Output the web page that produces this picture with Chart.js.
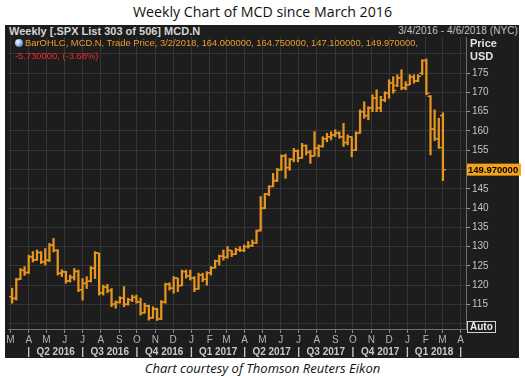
<!DOCTYPE html>
<html>
<head>
<meta charset="utf-8">
<script src="https://cdn.jsdelivr.net/npm/chart.js@4.4.1/dist/chart.umd.min.js"></script>
<style>
  html, body { margin: 0; padding: 0; background: #fff; }
  body { width: 525px; height: 376px; position: relative; overflow: hidden; font-family: "Liberation Sans", Arial, sans-serif; }
  #title { position: absolute; top: 2px; left: 0; width: 525px; text-align: center; font-family: "Open Sans", sans-serif; font-size: 14.2px; color: #111; }
  #caption { position: absolute; top: 359px; left: 0; width: 525px; text-align: center; font-family: "Open Sans", sans-serif; font-style: italic; font-size: 13px; color: #111; }
  #panel { position: absolute; left: 5px; top: 25px; width: 514px; height: 333px; background: #1d1d1d; }
  #head-left { position: absolute; left: 4px; top: 0px; font-size: 11px; font-weight: bold; color: #d4d4d4; line-height: 12px; }
  #head-right { position: absolute; right: 1px; top: 0px; font-size: 10px; letter-spacing: 0.1px; color: #c4c4c4; line-height: 12px; }
  #wrap { position: absolute; left: 0; top: 12px; width: 516px; height: 321px; }
  #legend { position: absolute; left: 10px; top: 12px; font-size: 9.4px; line-height: 12.5px; z-index: 2; }
  #legend .l1 { color: #eb9d2c; }
  #legend .l2 { color: #f22a2a; }
  #legend .icon { display: inline-block; width: 8px; height: 8px; border-radius: 50%; background: radial-gradient(circle at 35% 35%, #ffffff 0, #9fc3e8 40%, #2c5d9a 100%); vertical-align: -1px; margin-right: 2px; }
  #unit { position: absolute; left: 465px; top: 12px; font-size: 11px; font-weight: bold; color: #e2e2e2; line-height: 13px; z-index: 2; }
  #auto { position: absolute; left: 462px; top: 296px; font-size: 10px; font-weight: bold; color: #ececec; border: 1px solid #d0d0d0; padding: 0 2px; line-height: 10px; z-index: 2; }
</style>
</head>
<body>
<div id="title">Weekly Chart of MCD since March 2016</div>
<div id="panel">
  <div id="head-left">Weekly [.SPX List 303 of 506] MCD.N</div>
  <div id="head-right">3/4/2016 - 4/6/2018 (NYC)</div>
  <div id="wrap"><canvas id="chart" width="516" height="321"></canvas></div>
  <div id="legend">
    <div class="l1"><span class="icon"></span><span id="ohlc-text"></span></div>
    <div class="l2" id="chg-text"></div>
  </div>
  <div id="unit">Price<br>USD</div>
  <div id="auto">Auto</div>
</div>
<div id="caption">Chart courtesy of Thomson Reuters Eikon</div>

<script>
// weekly bars, first bar dated 3/4/2016
const firstBar = Date.UTC(2016, 2, 4);
const axisStart = Date.UTC(2016, 1, 26);
const axisEnd = Date.UTC(2018, 3, 10);
const lastBarLabel = '3/2/2018';

const opens = [
  117.0, 116.6, 121.6, 123.8, 123.3, 127.3, 126.6, 128.4, 126.1, 126.5,
  130.3, 129.0, 123.1, 123.4, 121.1, 122.0, 123.5, 118.8, 120.4, 121.0,
  124.4, 128.3, 118.0, 119.4, 118.6, 115.1, 115.5, 116.6, 115.0, 116.2,
  116.8, 115.6, 112.8, 114.6, 111.5, 113.8, 111.3, 115.6, 120.2, 119.2,
  121.8, 119.9, 123.5, 122.4, 121.8, 119.0, 122.6, 121.5, 123.2, 124.5,
  126.2, 127.5, 127.2, 129.0, 128.0, 129.2, 129.0, 130.0, 130.2, 131.0,
  134.3, 140.0, 143.6, 145.6, 147.0, 150.0, 153.5, 150.5, 152.6, 154.8,
  153.0, 156.2, 154.5, 153.5, 155.5, 156.0, 158.0, 158.5, 159.0, 159.5,
  158.5, 157.0, 158.5, 155.0, 159.5, 165.0, 164.0, 166.0, 168.5, 166.0,
  168.0, 169.8, 172.5, 171.8, 173.8, 171.2, 172.0, 174.0, 173.0, 175.0,
  178.3, 169.0, 160.5, 158.0, 164.0
];
const highs = [
  119.2, 121.8, 124.3, 124.8, 127.8, 128.7, 129.1, 128.7, 129.5, 130.8,
  132.1, 129.2, 124.0, 123.6, 122.6, 124.3, 123.9, 121.7, 122.2, 124.8,
  128.7, 128.3, 120.0, 120.2, 119.1, 115.9, 117.0, 119.6, 116.6, 117.4,
  117.4, 116.6, 115.3, 114.8, 114.4, 114.0, 116.0, 120.5, 120.6, 122.2,
  121.8, 123.9, 123.9, 123.9, 122.2, 123.1, 123.1, 123.5, 124.8, 126.5,
  127.8, 129.1, 130.0, 129.0, 129.6, 130.0, 130.4, 131.3, 131.7, 134.3,
  143.0, 143.8, 145.8, 149.0, 150.3, 153.8, 154.0, 152.9, 155.5, 155.1,
  156.8, 156.4, 155.0, 159.8, 156.4, 158.5, 159.4, 159.8, 160.3, 159.8,
  162.0, 159.0, 158.5, 159.8, 165.5, 167.6, 166.3, 169.4, 170.7, 169.0,
  170.2, 173.3, 174.1, 174.6, 175.9, 172.8, 174.6, 174.6, 174.6, 178.5,
  178.7, 169.2, 165.5, 163.3, 164.75
];
const lows = [
  115.3, 116.1, 121.4, 122.5, 123.0, 126.0, 126.4, 125.6, 125.2, 126.1,
  128.6, 122.6, 122.2, 120.5, 120.8, 121.3, 118.3, 116.1, 119.1, 120.8,
  121.7, 117.4, 117.4, 118.0, 114.4, 114.0, 115.3, 114.4, 114.8, 115.7,
  115.3, 112.2, 112.7, 110.9, 111.4, 110.8, 111.0, 115.3, 118.7, 117.9,
  118.3, 119.8, 121.8, 121.3, 118.3, 118.9, 120.9, 120.0, 122.6, 124.4,
  125.2, 126.5, 127.0, 127.4, 127.9, 128.7, 128.7, 129.6, 130.0, 130.8,
  134.0, 139.8, 143.2, 145.5, 146.9, 149.8, 147.7, 149.8, 152.0, 152.0,
  152.9, 153.8, 151.6, 153.5, 153.3, 155.8, 157.2, 157.7, 158.5, 158.1,
  156.0, 156.4, 153.3, 154.9, 159.4, 163.3, 162.9, 165.0, 165.0, 165.0,
  167.6, 168.5, 169.8, 171.5, 170.7, 170.7, 172.0, 172.4, 172.8, 174.6,
  169.4, 153.8, 157.5, 155.5, 147.1
];
const closes = [
  116.5, 121.4, 123.9, 123.2, 127.4, 126.5, 128.5, 126.0, 126.4, 130.4,
  129.0, 123.0, 123.5, 121.0, 122.0, 123.6, 118.8, 120.5, 121.0, 124.3,
  128.4, 118.0, 119.5, 118.6, 115.0, 115.5, 116.6, 115.0, 116.2, 116.8,
  115.6, 112.8, 114.6, 111.5, 113.8, 111.2, 115.5, 120.2, 119.2, 121.8,
  119.8, 123.5, 122.4, 121.8, 119.0, 122.6, 121.5, 123.2, 124.5, 126.2,
  127.5, 127.2, 129.0, 128.0, 129.2, 129.0, 130.0, 130.2, 131.0, 134.0,
  139.9, 143.6, 145.6, 147.2, 149.9, 153.5, 150.5, 152.6, 154.8, 153.0,
  156.2, 154.5, 153.5, 155.5, 156.0, 158.0, 158.5, 159.0, 159.5, 158.5,
  157.0, 158.5, 155.0, 159.5, 165.0, 164.0, 166.0, 168.5, 166.0, 168.0,
  169.8, 172.5, 170.5, 173.8, 171.2, 172.0, 174.0, 173.0, 174.2, 178.3,
  169.8, 160.5, 158.0, 155.7, 149.97
];

const monthLabels = ['M','A','M','J','J','A','S','O','N','D','J','F','M','A','M','J','J','A','S','O','N','D','J','F','M','A'];
const quarterLabels = ['Q2 2016','Q3 2016','Q4 2016','Q1 2017','Q2 2017','Q3 2017','Q4 2017','Q1 2018'];
const priceTicks = [110, 115, 120, 125, 130, 135, 140, 145, 150, 155, 160, 165, 170, 175, 180];
const labelledTicks = [115, 175]; // range of prices that get a tick label

const WEEK = 7 * 86400000;
const toWeeks = (t) => (t - firstBar) / WEEK;
const monthTicks = monthLabels.map((m, k) => toWeeks(Date.UTC(2016, 2 + k, 1)));
const quarterEdges = monthTicks.filter((v, k) => k % 3 === 1);
const quarterMids = quarterLabels.map((q, k) => (quarterEdges[k] + quarterEdges[k + 1]) / 2);

const BAR = '#e6951f';
const GRID = '#353535';
const TICKW = 0.36; // open/close tick offset, in weeks
const inLabelRange = (v) => v >= labelledTicks[0] && v <= labelledTicks[1];

const last = closes.length - 1;
const chg = closes[last] - closes[last - 1];
document.getElementById('ohlc-text').textContent =
  `BarOHLC, MCD.N, Trade Price, ${lastBarLabel}, ${opens[last].toFixed(6)}, ${highs[last].toFixed(6)}, ${lows[last].toFixed(6)}, ${closes[last].toFixed(6)},`;
document.getElementById('chg-text').textContent =
  `${chg.toFixed(6)}, (${(chg / closes[last - 1] * 100).toFixed(2)}%)`;

// orange tag with the last close, on the price axis
const lastPriceTag = {
  id: 'lastPriceTag',
  afterDraw(chart) {
    const { ctx, chartArea, scales } = chart;
    const v = closes[last];
    const py = scales.y.getPixelForValue(v);
    ctx.save();
    ctx.fillStyle = '#f5a21c';
    ctx.fillRect(chartArea.right + 1, py - 6, chart.width - chartArea.right - 1, 12);
    ctx.fillStyle = '#000';
    ctx.font = 'bold 9.5px "Liberation Sans"';
    ctx.textBaseline = 'middle';
    ctx.fillText(v.toFixed(6), chartArea.right + 2, py + 0.5);
    ctx.restore();
  }
};

new Chart(document.getElementById('chart'), {
  type: 'bar',
  data: {
    datasets: [
      {
        label: 'range',
        data: highs.map((h, i) => ({ x: i, y: [lows[i], h] })),
        backgroundColor: BAR,
        borderWidth: 0,
        barThickness: 1.6
      },
      {
        type: 'scatter',
        label: 'open',
        data: opens.map((o, i) => ({ x: i - TICKW, y: o })),
        pointStyle: 'line',
        pointRadius: 1.5,
        borderColor: BAR,
        borderWidth: 1.4
      },
      {
        type: 'scatter',
        label: 'close',
        data: closes.map((c, i) => ({ x: i + TICKW, y: c })),
        pointStyle: 'line',
        pointRadius: 1.5,
        borderColor: BAR,
        borderWidth: 1.4
      }
    ]
  },
  options: {
    responsive: false,
    animation: false,
    layout: { padding: { left: 3, top: 0, right: 0, bottom: 0 }, autoPadding: false },
    plugins: { legend: { display: false }, tooltip: { enabled: false } },
    scales: {
      x: {
        type: 'linear',
        offset: false,
        min: toWeeks(axisStart),
        max: toWeeks(axisEnd),
        weight: 0,
        afterBuildTicks: (s) => { s.ticks = monthTicks.map(v => ({ value: v })); },
        afterFit: (s) => { s.height = 17; s.paddingLeft = 0; s.paddingRight = 0; },
        grid: { offset: false, color: GRID, tickColor: '#8a8a8a', tickLength: 4, lineWidth: 1 },
        border: { color: '#6e6e6e' },
        ticks: {
          color: '#b4b4b4', font: { family: 'Liberation Sans', size: 10 }, padding: 1,
          maxRotation: 0, autoSkip: false,
          callback: (v, i) => monthLabels[i]
        }
      },
      x2: {
        type: 'linear',
        position: 'bottom',
        offset: false,
        min: toWeeks(axisStart),
        max: toWeeks(axisEnd),
        weight: 1,
        afterBuildTicks: (s) => {
          s.ticks = quarterEdges.concat(quarterMids).sort((a, b) => a - b).map(v => ({ value: v }));
        },
        afterFit: (s) => { s.height = 12; s.paddingLeft = 0; s.paddingRight = 0; },
        grid: { display: false, drawTicks: false, offset: false },
        border: { display: false },
        ticks: {
          color: '#c8c8c8', font: { family: 'Liberation Sans', size: 10, weight: 'bold' }, padding: 0,
          maxRotation: 0, autoSkip: false,
          callback: (v) => {
            const k = quarterMids.indexOf(v);
            return k >= 0 ? quarterLabels[k] : '|';
          }
        }
      },
      y: {
        position: 'right',
        min: 108.6,
        max: 184.4,
        afterBuildTicks: (s) => { s.ticks = priceTicks.map(v => ({ value: v })); },
        afterFit: (s) => { s.width = 55; s.paddingTop = 0; s.paddingBottom = 0; },
        grid: {
          color: GRID, tickLength: 4,
          tickColor: (c) => (c.tick && inLabelRange(c.tick.value)) ? '#9a9a9a' : 'rgba(0,0,0,0)'
        },
        border: { color: '#6e6e6e' },
        ticks: {
          color: '#c4c4c4', font: { family: 'Liberation Sans', size: 10 }, padding: 2,
          callback: (v) => inLabelRange(v) ? String(v) : ''
        }
      }
    }
  },
  plugins: [lastPriceTag]
});
</script>
</body>
</html>
